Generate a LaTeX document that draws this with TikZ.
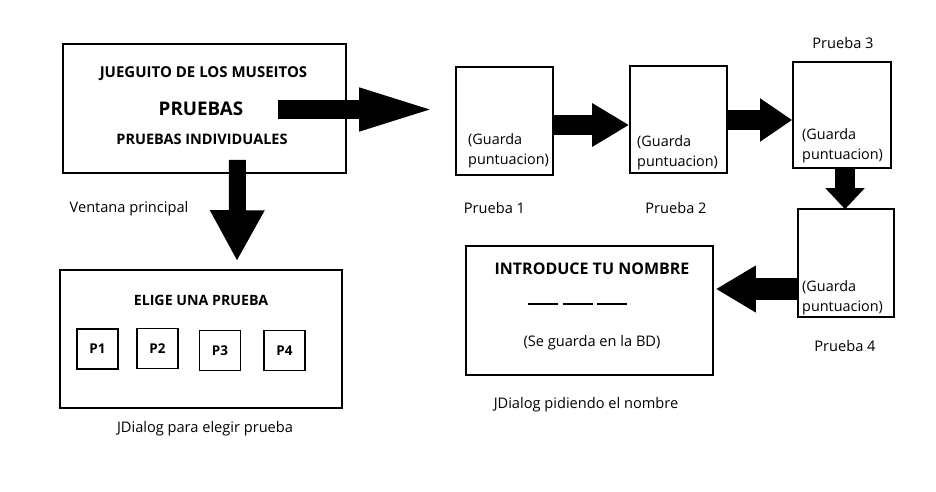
\documentclass[tikz,border=0pt]{standalone}
\usepackage{fontspec}
\setmainfont{Open Sans}
\usetikzlibrary{arrows.meta}
\begin{document}
\begin{tikzpicture}[x=1pt,y=-1pt,
    winbox/.style={draw,line width=1.6pt,inner sep=0pt},
    btn/.style={draw,line width=1.6pt,minimum width=41pt,minimum height=40pt,inner sep=0pt,font=\bfseries\fontsize{13.5}{15}\selectfont},
    head/.style={inner sep=0pt,font=\bfseries\fontsize{15}{17}\selectfont},
    txt/.style={inner sep=0pt,font=\fontsize{14.6}{17}\selectfont},
    note/.style={inner sep=0pt,align=left,anchor=west,font=\fontsize{14.4}{20}\selectfont},
    fatarrow/.style n args={3}{line width=#1,-{Triangle[width=#2,length=#3]}}]
    \useasboundingbox (0,0) rectangle (936,492);
    % Ventana principal
    \node[winbox,minimum width=283pt,minimum height=129pt] (main) at (204.5,108.5) {};
    \node[head] (title) at (203.5,74) {JUEGUITO DE LOS MUSEITOS};
    \node[head,font=\bfseries\fontsize{18.8}{21}\selectfont] (pruebas) at (201,109) {PRUEBAS};
    \node[head,font=\bfseries\fontsize{14.5}{17}\selectfont] (indiv) at (202,139) {PRUEBAS INDIVIDUALES};
    \node[txt] (lmain) at (129,209) {Ventana principal};
    % JDialog para elegir prueba
    \node[winbox,minimum width=282pt,minimum height=138pt] (elige) at (201,339) {};
    \node[head,font=\bfseries\fontsize{14.2}{17}\selectfont] (etitle) at (201,300) {ELIGE UNA PRUEBA};
    \foreach \n/\x/\y in {1/97.5/349,2/157.5/348.5,3/220/350.5,4/284.5/350.5}
        \node[btn] (b\n) at (\x,\y) {P\n};
    \node[txt] (lelige) at (205,429) {JDialog para elegir prueba};
    % Pruebas
    \node[winbox,minimum width=97pt,minimum height=108pt] (pr1) at (504.5,121) {};
    \node[winbox,minimum width=97pt,minimum height=107pt] (pr2) at (678.5,119.5) {};
    \node[winbox,minimum width=98pt,minimum height=106pt] (pr3) at (842,115) {};
    \node[winbox,minimum width=96pt,minimum height=108pt] (pr4) at (846,263) {};
    \foreach \n/\x/\y in {1/468/151,2/637/153,3/802/146,4/802/298}
        \node[note] (g\n) at (\x,\y) {(Guarda\\puntuacion)};
    \node[txt] (l1) at (494.5,208) {Prueba 1};
    \node[txt] (l2) at (676,208) {Prueba 2};
    \node[txt] (l3) at (843,43) {Prueba 3};
    \node[txt] (l4) at (845,346) {Prueba 4};
    % JDialog pidiendo el nombre
    \node[winbox,minimum width=247pt,minimum height=129pt] (intro) at (589.5,310.5) {};
    \node[head,font=\bfseries\fontsize{16}{18}\selectfont] (ititle) at (592,269) {INTRODUCE TU NOMBRE};
    \draw[line width=2.2pt,dash pattern=on 30pt off 4.5pt] (528,304) -- (629,304);
    \node[txt] (bd) at (592,343) {(Se guarda en la BD)};
    \node[txt] (lintro) at (586,405) {JDialog pidiendo el nombre};
    % Flechas
    \draw[fatarrow={19pt}{37pt}{82pt}] ([xshift=-69pt,yshift=-1pt]main.east) -- ([xshift=-14pt,yshift=11.5pt]pr1.west);
    \draw[fatarrow={17pt}{51pt}{51pt}] ([xshift=33pt,yshift=14pt]main.south) -- ([xshift=36pt,yshift=8pt]elige.north);
    \draw[fatarrow={20pt}{41pt}{37pt}] ([yshift=-4pt]pr1.east) -- ([yshift=-5.5pt]pr2.west);
    \draw[fatarrow={20pt}{41pt}{32pt}] ([yshift=-0.5pt]pr2.east) -- ([yshift=-5pt]pr3.west);
    \draw[fatarrow={20pt}{38pt}{21pt}] ([xshift=3pt]pr3.south) -- ([xshift=-1pt,yshift=-1pt]pr4.north);
    \draw[fatarrow={22pt}{44pt}{40pt}] ([yshift=-26pt]pr4.west) -- ([xshift=2pt,yshift=21.5pt]intro.east);
\end{tikzpicture}
\end{document}
